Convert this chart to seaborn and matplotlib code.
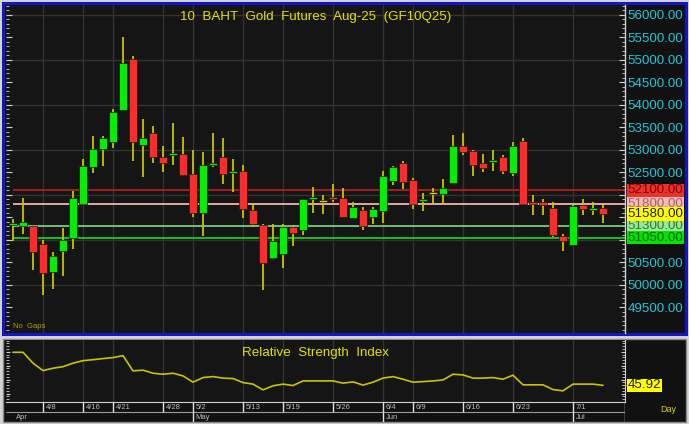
import numpy as np
import matplotlib
matplotlib.use("Agg")
import matplotlib.pyplot as plt
from matplotlib.patches import Rectangle
from matplotlib.ticker import MultipleLocator, FixedLocator
import seaborn as sns

# daily OHLC, Apr 3 - Jul 4 2025
opens = [51350, 51311, 51318, 50904, 50296, 50756, 51037, 51807, 52630, 53022,
         53185, 53882, 55015, 53104, 53370, 52844, 52890, 52919, 52467, 51607,
         52670, 52844, 52490, 52533, 51659, 51326, 50607, 50689, 51282, 51230,
         51920, 51859, 51940, 51941, 51489, 51667, 51519, 51644, 52304, 52704,
         52341, 51870, 52037, 52030, 52267, 53081, 52985, 52719, 52750, 52837,
         52481, 53200, 51844, 51837, 51719, 51089, 50896, 51778, 51680, 51704]
highs = [51467, 51926, 51320, 51000, 50740, 51259, 52081, 52793, 53304, 53300,
         53911, 55518, 55096, 53681, 53533, 53081, 53600, 53282, 53007, 52956,
         53378, 53259, 52800, 52659, 51793, 51356, 51348, 51363, 51326, 51919,
         52170, 52000, 52244, 52148, 51844, 51733, 51733, 52541, 52644, 52748,
         52378, 52037, 52156, 52363, 53341, 53378, 53000, 52904, 53000, 52881,
         53178, 53259, 52007, 51911, 51837, 51133, 51785, 51919, 51852, 51785]
lows = [50985, 51133, 50333, 49778, 49911, 50207, 50807, 51807, 52496, 52644,
        53052, 53882, 52763, 52407, 52719, 52519, 52659, 52422, 51519, 51089,
        52615, 52237, 52059, 51481, 51296, 49889, 50585, 50385, 50867, 51104,
        51607, 51570, 51852, 51504, 51481, 51230, 51348, 51385, 52222, 52141,
        51689, 51652, 51807, 51807, 52267, 52889, 52422, 52504, 52541, 52467,
        52430, 51800, 51563, 51563, 51074, 50763, 50896, 51548, 51556, 51370]
closes = [51370, 51400, 50726, 50273, 50644, 51007, 51941, 52644, 53022, 53259,
          53844, 54941, 53185, 53259, 52844, 52704, 52915, 52444, 51593, 52667,
          52695, 52467, 52520, 51689, 51356, 50489, 50978, 51289, 51148, 51919,
          51945, 51859, 51910, 51511, 51741, 51311, 51689, 52422, 52622, 52289,
          51807, 51919, 52037, 52156, 53081, 52963, 52667, 52607, 52775, 52526,
          53096, 51800, 51793, 51778, 51104, 50978, 51756, 51689, 51700, 51580]
rsi = [69.6, 69.6, 61.8, 56.5, 58.2, 59.3, 61.8, 63.6, 64.3, 65.1,
       65.8, 67.2, 56.3, 56.8, 54.6, 53.9, 54.6, 52.7, 48.2, 51.5,
       52.2, 51.1, 50.8, 47.9, 46.8, 42.7, 45.6, 46.8, 45.8, 49.1,
       49.1, 49.1, 49.1, 47.5, 48.4, 46.1, 48.2, 51.1, 52.2, 50.3,
       48.2, 48.6, 49.1, 49.8, 53.9, 53.4, 51.1, 51.1, 51.5, 50.3,
       53.2, 46.3, 46.3, 46.3, 42.9, 42.0, 46.8, 46.8, 46.8, 45.92]

tick_idx = [3, 7, 10, 15, 18, 23, 27, 32, 37, 40, 45, 50, 56]
tick_lbl = ['4/8', '4/16', '4/21', '4/28', '5/2', '5/13', '5/19', '5/26',
            '6/4', '6/9', '6/16', '6/23', '7/1']
month_idx = [0, 18, 37, 56]
month_lbl = ['Apr', 'May', 'Jun', 'Jul']

levels = [52100, 51800, 51300, 51050]
level_line = ['#b41e1e', '#f2b4b0', '#78cc78', '#18d018']
level_bg = ['#e8322c', '#f4bcb8', '#98e898', '#00e400']
level_fg = ['#8a0000', '#b06060', '#2e7a2e', '#005a00']

title = "10  BAHT  Gold  Futures  Aug-25  (GF10Q25)"
rsi_title = "Relative  Strength  Index"

sns.set_style("dark")
plt.rcParams['font.family'] = ['Liberation Sans', 'DejaVu Sans']

W, H = 689, 424
fig = plt.figure(figsize=(W / 100, H / 100), dpi=100, facecolor='#d4d4d4')


def fr(x0, y0, x1, y1):
    return [x0 / W, 1 - y1 / H, (x1 - x0) / W, (y1 - y0) / H]


def box(x0, y0, x1, y1, fc, ec, lw):
    b = fr(x0, y0, x1, y1)
    fig.patches.append(Rectangle((b[0], b[1]), b[2], b[3], transform=fig.transFigure,
                                 facecolor=fc, edgecolor=ec, lw=lw, zorder=-10))


box(3, 3, 686, 334, '#111111', '#1414c8', 2.2)
box(3, 339, 686, 422, '#111111', '#8a8a8a', 1.0)

bg = '#151515'
grid_c = '#333333'
x = np.arange(len(closes))
xlim = (-0.7, 61.2)

# ---- price panel
ax = fig.add_axes(fr(6, 5, 625, 333))
ax.set_facecolor(bg)
ax.set_xlim(xlim)
ax.set_ylim(48933, 56222)
for t in tick_idx:
    ax.axvline(t, color=grid_c, lw=1, zorder=0)
for g in range(50000, 56001, 1000):
    ax.axhline(g, color=grid_c, lw=1, zorder=0)

o = np.array(opens)
c = np.array(closes)
colors = np.where(c > o, '#00f000', np.where(c < o, '#ff2a2a', '#d8d400'))
body = np.maximum(np.abs(c - o), 40)
bottom = (o + c) / 2 - body / 2
ax.vlines(x, lows, highs, color='#c8c400', lw=1.3, zorder=2)
ax.bar(x, body, bottom=bottom, width=0.8, color=colors, edgecolor='#1a1a1a',
       lw=0.5, zorder=3)

for lv, lc, bc, fc in zip(levels, level_line, level_bg, level_fg):
    ax.hlines(lv, 0, xlim[1], color=lc, lw=1.3, zorder=1)
    ax.text(1.004, lv, f"{lv:.2f}", transform=ax.get_yaxis_transform(), ha='left',
            va='center', fontsize=9.6, color=fc, clip_on=False, zorder=6,
            bbox=dict(boxstyle='square,pad=0.05', fc=bc, ec='none'))
ax.text(1.004, closes[-1], f"{closes[-1]:.2f}", transform=ax.get_yaxis_transform(),
        ha='left', va='center', fontsize=9.6, color='#202000', clip_on=False, zorder=7,
        bbox=dict(boxstyle='square,pad=0.05', fc='#ffff00', ec='none'))
ax.text(len(closes) + 0.6, closes[-1], "→", color='#d8d400', fontsize=6,
        ha='left', va='center')

yt = list(range(49500, 56001, 500))
ax.yaxis.set_major_locator(FixedLocator(yt))
ax.set_yticklabels(["" if v in (51000, 51500, 52000) else f"{v:.2f}" for v in yt])
ax.yaxis.set_minor_locator(MultipleLocator(100))
ax.tick_params(axis='y', which='both', left=True, right=True, labelleft=False,
               labelright=True, direction='in', colors='#d0d0d0', labelcolor='#1ec8d8',
               labelsize=9.6, pad=2)
ax.tick_params(axis='y', which='major', length=4, width=0.8)
ax.tick_params(axis='y', which='minor', length=2, width=0.6)
ax.set_xticks([])
for s in ['top', 'bottom', 'left']:
    ax.spines[s].set_visible(False)
ax.spines['right'].set_visible(True)
ax.spines['right'].set_color('#d0d0d0')
ax.spines['right'].set_linewidth(1)
ax.grid(False)
ax.set_title(title, color='#e4e000', fontsize=9.6, y=0.955, pad=0)
ax.text(0.012, 0.008, "No  Gaps", transform=ax.transAxes, color='#a8a400',
        fontsize=5.5, ha='left', va='bottom')

# ---- RSI panel
ax2 = fig.add_axes(fr(6, 340, 625, 402))
ax2.set_facecolor(bg)
ax2.set_xlim(xlim)
ax2.set_ylim(34, 78.4)
for t in tick_idx:
    ax2.axvline(t, color=grid_c, lw=1, zorder=0)
sns.lineplot(x=x, y=rsi, ax=ax2, color='#c8c400', lw=1.2, zorder=3)
ax2.set_xticks([])
ax2.yaxis.set_major_locator(MultipleLocator(10))
ax2.yaxis.set_minor_locator(MultipleLocator(2))
ax2.tick_params(axis='y', which='both', left=True, right=True, labelleft=False,
                labelright=False, direction='in', colors='#d0d0d0')
ax2.tick_params(axis='y', which='major', length=3, width=0.8)
ax2.tick_params(axis='y', which='minor', length=2, width=0.6)
for s in ['top', 'left']:
    ax2.spines[s].set_visible(False)
ax2.spines['bottom'].set_visible(True)
ax2.spines['bottom'].set_color('#d0d0d0')
ax2.spines['right'].set_visible(True)
ax2.spines['right'].set_color('#d0d0d0')
ax2.set_ylabel("")
ax2.grid(False)
ax2.set_title(rsi_title, color='#e4e000', fontsize=9.6, y=0.74, pad=0)
ax2.text(1.004, rsi[-1], f"{rsi[-1]:.2f}", transform=ax2.get_yaxis_transform(),
         ha='left', va='center', fontsize=9.6, color='#202000', clip_on=False,
         bbox=dict(boxstyle='square,pad=0.05', fc='#ffff00', ec='none'))
ax2.text(len(rsi) + 0.6, rsi[-1], "→", color='#d8d400', fontsize=6,
         ha='left', va='center')

# ---- date rows
ax3 = fig.add_axes(fr(6, 402, 625, 422))
ax3.set_facecolor('#0e0e0e')
ax3.set_xlim(xlim)
ax3.set_ylim(0, 2)
ax3.axis('off')
ax3.hlines(1, xlim[0], xlim[1], color='#9a9a9a', lw=0.8)
ax3.vlines(tick_idx, 1, 2, color='#e0e0e0', lw=1)
ax3.vlines(month_idx[1:], 0, 1, color='#e0e0e0', lw=1)
ax3.vlines(xlim[1] - 0.05, 0, 2, color='#e0e0e0', lw=1)
for t, l in zip(tick_idx, tick_lbl):
    ax3.text(t + 0.25, 1.45, l, color='#b8b8b8', fontsize=5.5, ha='left', va='center')
for t, l in zip(month_idx, month_lbl):
    ax3.text(t + 0.25, 0.45, l, color='#b8b8b8', fontsize=5.5, ha='left', va='center')
fig.text(668 / W, 1 - 410 / H, "Day", color='#d8d000', fontsize=6.5, ha='center',
         va='center')

fig.savefig("out.png", dpi=100, facecolor=fig.get_facecolor())
